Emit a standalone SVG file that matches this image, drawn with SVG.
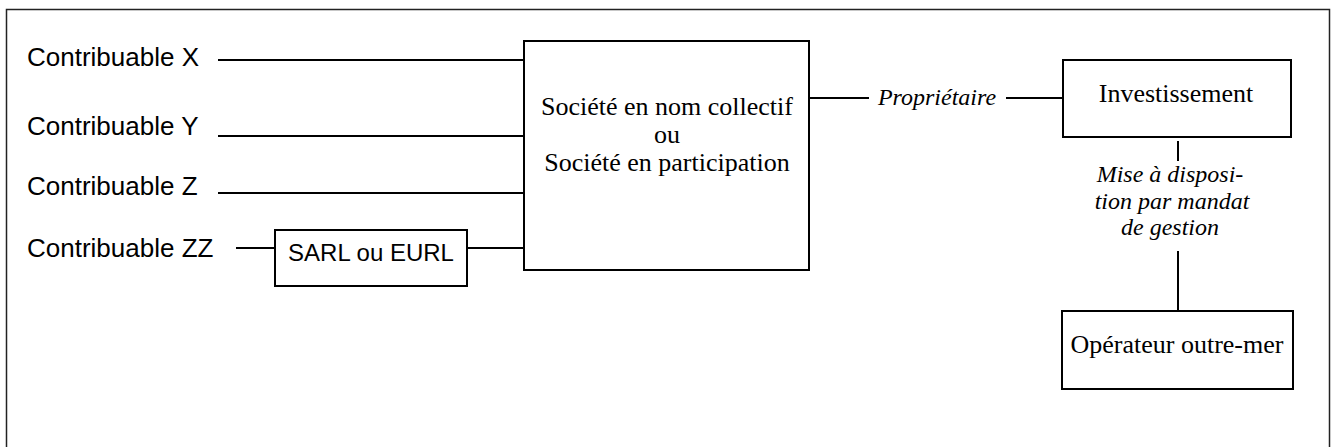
<svg xmlns="http://www.w3.org/2000/svg" width="1335" height="447" viewBox="0 0 1335 447">
<style>
.box{fill:#fff;stroke:#000;stroke-width:2}
.ln{stroke:#000;stroke-width:2;fill:none}
.sans{font-family:"Liberation Sans",Arial,sans-serif;fill:#000}
.serif{font-family:"Liberation Serif","Times New Roman",serif;fill:#000;font-size:26px}
.it{font-family:"Liberation Serif","Times New Roman",serif;font-style:italic;fill:#000;font-size:24px}
</style>
<rect x="0" y="0" width="1335" height="447" fill="#fff"/>
<rect id="frame" x="6.5" y="9.5" width="1323" height="460" fill="none" stroke="#222" stroke-width="1.5"/>
<g id="connectors">
<line class="ln" x1="218" y1="60" x2="524" y2="60"/>
<line class="ln" x1="218" y1="136" x2="524" y2="136"/>
<line class="ln" x1="218" y1="193" x2="524" y2="193"/>
<line class="ln" x1="236" y1="248" x2="275" y2="248"/>
<line class="ln" x1="467" y1="248" x2="524" y2="248"/>
<line class="ln" x1="809" y1="98" x2="869" y2="98"/>
<line class="ln" x1="1006" y1="98" x2="1063" y2="98"/>
<line class="ln" x1="1178" y1="141" x2="1178" y2="161"/>
<line class="ln" x1="1178" y1="251" x2="1178" y2="311"/>
<text class="it" x="937" y="105" text-anchor="middle">Propriétaire</text>
<text class="it" x="1170" y="182" text-anchor="middle">Mise à disposi-</text>
<text class="it" x="1172" y="209" text-anchor="middle">tion par mandat</text>
<text class="it" x="1170" y="235" text-anchor="middle">de gestion</text>
</g>
<g id="cx"><text class="sans" x="27" y="66" font-size="26">Contribuable X</text></g>
<g id="cy"><text class="sans" x="27" y="135" font-size="26">Contribuable Y</text></g>
<g id="cz"><text class="sans" x="27" y="195" font-size="26">Contribuable Z</text></g>
<g id="czz"><text class="sans" x="27" y="257" font-size="26">Contribuable ZZ</text></g>
<g id="sarl">
<rect class="box" x="275" y="230" width="192" height="56"/>
<text class="sans" x="371" y="261" font-size="24" text-anchor="middle">SARL ou EURL</text>
</g>
<g id="snc">
<rect class="box" x="524" y="41" width="285" height="229"/>
<text class="serif" x="667" y="115" text-anchor="middle">Société en nom collectif</text>
<text class="serif" x="667" y="143" text-anchor="middle">ou</text>
<text class="serif" x="667" y="171" text-anchor="middle">Société en participation</text>
</g>
<g id="invest">
<rect class="box" x="1063" y="60" width="228" height="77"/>
<text class="serif" x="1176" y="102" text-anchor="middle">Investissement</text>
</g>
<g id="operateur">
<rect class="box" x="1062" y="311" width="231" height="78"/>
<text class="serif" x="1177" y="353" text-anchor="middle">Opérateur outre-mer</text>
</g>
</svg>
